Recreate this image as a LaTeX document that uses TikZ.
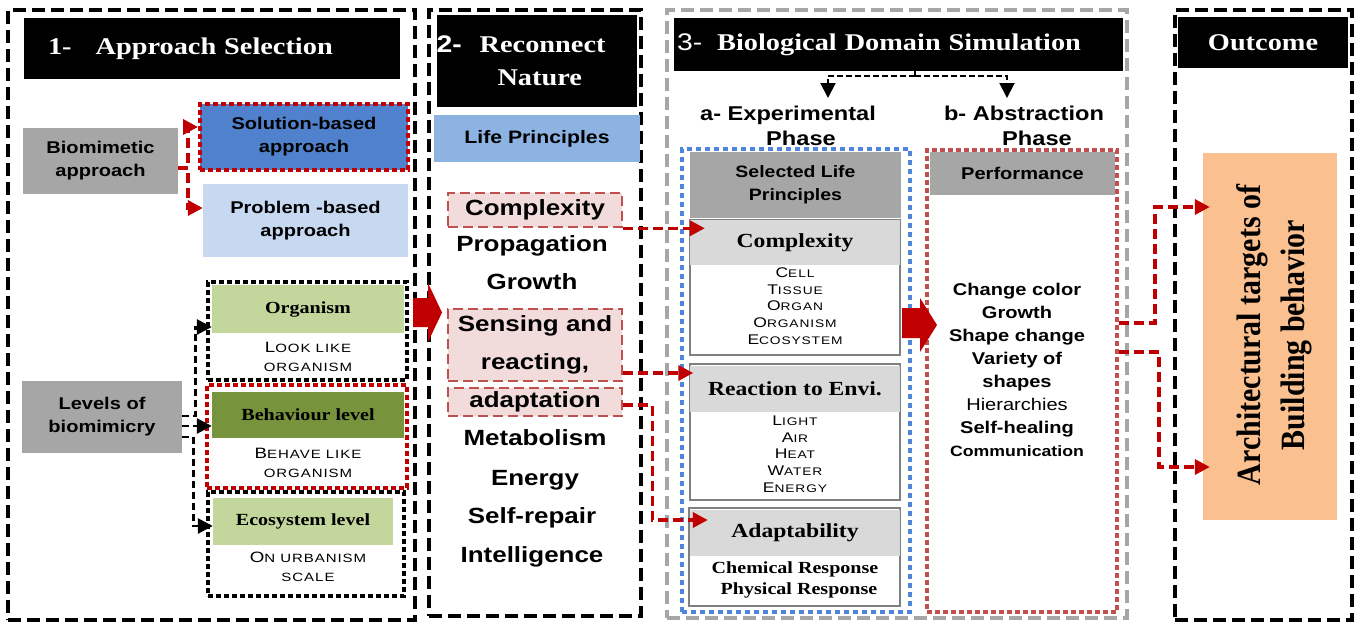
\documentclass[tikz,border=0pt]{standalone}
\usepackage{fontspec}
\setmainfont{Liberation Sans}[FakeStretch=1.18]
\newfontfamily\serf{Liberation Serif}[FakeStretch=1.18]
\newfontfamily\serfrot{Liberation Serif}[FakeStretch=0.88]
\newfontfamily\capsf{Liberation Sans}[FakeStretch=1.25,LetterSpace=8]
\usetikzlibrary{arrows.meta}
\definecolor{blkred}{HTML}{C00000}
\definecolor{dotred}{HTML}{C0504D}
\definecolor{boxgray}{HTML}{A6A6A6}
\definecolor{hdrgray}{HTML}{D9D9D9}
\definecolor{solblue}{HTML}{4F81CC}
\definecolor{probblue}{HTML}{C6D9F1}
\definecolor{lifeblue}{HTML}{8DB3E2}
\definecolor{dotblue}{HTML}{4F86DC}
\definecolor{lightgreen}{HTML}{C3D69B}
\definecolor{darkgreen}{HTML}{77933C}
\definecolor{pinkfill}{HTML}{F2DCDB}
\definecolor{orangefill}{HTML}{FAC090}
\newcommand{\fsz}[2]{\fontsize{#1}{#2}\selectfont}
\newcommand{\capA}[2]{{\fsz{15}{15}#1}{\fsz{12}{12}#2}}
\newcommand{\capB}[2]{{\fsz{14}{14}#1}{\fsz{11}{11}#2}}
\tikzset{
    panel/.style={draw, line width=4pt, dash pattern=on 13pt off 6pt, inner sep=0pt},
    titlebox/.style={fill=black, text=white, font=\serf\bfseries\fsz{24}{28}, inner sep=0pt},
    fillbox/.style={inner sep=0pt, align=center, font=\bfseries\fsz{17}{23}},
    dotbox/.style={draw, line width=4pt, dash pattern=on 5pt off 3pt, inner sep=0pt},
    hdrbox/.style={fill=hdrgray, inner sep=0pt, font=\serf\bfseries\fsz{17}{20}},
    grpbox/.style={draw=gray, line width=1.5pt, inner sep=0pt},
    capsbox/.style={inner sep=0pt, align=center, font=\capsf\fsz{12}{19}},
    capslist/.style={inner sep=0pt, align=center, font=\capsf\fsz{12}{16.75}},
    listtxt/.style={inner sep=0pt, font=\bfseries\fsz{22}{26}, text height=16pt, text depth=5pt},
    pinkbox/.style={fill=pinkfill, draw=dotred, line width=2.5pt, dash pattern=on 10pt off 5pt, inner sep=0pt, align=center, font=\bfseries\fsz{22}{38}},
    phase/.style={inner sep=0pt, align=center, font=\bfseries\fsz{20}{25}},
    redarrow/.style={blkred, line width=3.5pt, dash pattern=on 10pt off 5pt, -{Triangle[length=15pt,width=15pt]}},
    blkarrow/.style={black, line width=2.8pt, dash pattern=on 7pt off 4pt, -{Triangle[length=15pt,width=15pt]}},
}
\begin{document}
\begin{tikzpicture}[x=1pt, y=-1pt]
\useasboundingbox (0,0) rectangle (1359,624);

\node[panel, minimum width=407pt, minimum height=610pt] (P1) at (211.5,315) {};
\node[panel, minimum width=212pt, minimum height=606pt] (P2) at (535,313) {};
\node[panel, draw=boxgray, minimum width=460pt, minimum height=608pt] (P3) at (897,314) {};
\node[panel, minimum width=177pt, minimum height=610pt] (P4) at (1263.5,315) {};

\node[titlebox, text width=328pt, inner xsep=24pt, minimum height=61pt, align=left] (T1) at (212,48.5) {1-\hspace{24pt}Approach Selection};
\node[titlebox, text width=200pt, minimum height=92pt, align=left, font=\serf\bfseries\fsz{24}{33}] (T2) at (536.5,61) {{\normalfont\bfseries 2-}\hspace{18pt}Reconnect\\\hspace*{61pt}Nature};
\node[titlebox, text width=443pt, inner xsep=3pt, minimum height=53pt, align=left] (T3) at (898.5,44.5) {{\normalfont 3-}\hspace{15pt}Biological Domain Simulation};
\node[titlebox, minimum width=170pt, minimum height=51pt] (T4) at (1263,42.5) {Outcome};

\node[fillbox, fill=boxgray, minimum width=155pt, minimum height=66pt] (bio) at (100.5,161) {Biomimetic\\approach};
\node[fillbox, fill=solblue, draw=blkred, line width=4pt, dash pattern=on 5pt off 3pt, minimum width=208pt, minimum height=66pt] (sol) at (304,137) {Solution-based\\approach};
\node[fillbox, fill=probblue, minimum width=205pt, minimum height=73pt] (prob) at (305.5,220.5) {Problem -based\\approach};
\node[fillbox, fill=boxgray, minimum width=160pt, minimum height=72pt] (lev) at (102,417) {Levels of\\biomimicry};

\node[dotbox, minimum width=199pt, minimum height=98pt] (orgG) at (307.5,331) {};
\node[hdrbox, fill=lightgreen, minimum width=192pt, minimum height=48pt] (orgH) at (308,309) {Organism};
\node[capsbox] (orgT) at (308,357) {\capA{L}{OOK LIKE}\\\capA{}{ORGANISM}};
\node[dotbox, draw=blkred, minimum width=200pt, minimum height=103pt] (behG) at (307,436.5) {};
\node[hdrbox, fill=darkgreen, minimum width=192pt, minimum height=46pt] (behH) at (308,415) {Behaviour level};
\node[capsbox] (behT) at (308,463) {\capA{B}{EHAVE LIKE}\\\capA{}{ORGANISM}};
\node[dotbox, minimum width=196pt, minimum height=104pt] (ecoG) at (306,544) {};
\node[hdrbox, fill=lightgreen, minimum width=180pt, minimum height=47pt] (ecoH) at (303,521.5) {Ecosystem level};
\node[capsbox] (ecoT) at (308,567) {\capA{O}{N URBANISM}\\\capA{}{SCALE}};

\draw[redarrow] ([yshift=-7pt]bio.east) -- ++(10,0) |- ([yshift=10pt]sol.west);
\draw[redarrow] ([yshift=-7pt]bio.east) -- ++(10,0) |- ([yshift=12.5pt]prob.west);
\draw[blkarrow] ([yshift=1pt]lev.east) -- ++(13,0) |- ([yshift=-18pt]orgH.west);
\draw[blkarrow] ([yshift=-9pt]lev.east) -- ([yshift=-11pt]behH.west);
\draw[blkarrow] ([yshift=-20pt]lev.east) -- ++(11,0) |- ([yshift=-4.5pt]ecoH.west);

\fill[blkred] (413,298) -- (428,298) -- (428,283) -- (442,312.5) -- (428,342) -- (428,327) -- (413,327) -- cycle;

\node[fillbox, fill=lifeblue, minimum width=206pt, minimum height=47pt, font=\bfseries\fsz{18}{22}] (life) at (537,138.5) {Life Principles};
\node[pinkbox, minimum width=174pt, minimum height=34pt] (cplx) at (535,210) {Complexity};
\node[listtxt] (prop) at (532,246) {Propagation};
\node[listtxt] (grow) at (532,284) {Growth};
\node[pinkbox, minimum width=174pt, minimum height=72pt] (sens) at (535,345) {Sensing and\\reacting,};
\node[pinkbox, minimum width=174pt, minimum height=28pt] (adap) at (535,402) {adaptation};
\node[listtxt] (meta) at (535,440) {Metabolism};
\node[listtxt] (ener) at (535,480) {Energy};
\node[listtxt] (repr) at (532,518) {Self-repair};
\node[listtxt] (intl) at (532,557) {Intelligence};

\coordinate (fork) at (915,76);
\coordinate (tipA) at (828,98);
\coordinate (tipB) at (1007,98);
\draw[black, line width=2pt, dash pattern=on 6pt off 3pt] (T3.south -| fork) -- (fork);
\draw[blkarrow, line width=2pt, dash pattern=on 6pt off 3pt] (fork) -| (tipA);
\draw[blkarrow, line width=2pt, dash pattern=on 6pt off 3pt] (fork) -| (tipB);
\node[phase] (expT) at (788,126) {a- Experimental\\\hspace*{26pt}Phase};
\node[phase] (absT) at (1024,126) {b- Abstraction\\\hspace*{26pt}Phase};

\node[dotbox, draw=dotblue, dash pattern=on 5pt off 4pt, minimum width=228pt, minimum height=463pt] (expG) at (796,380.5) {};
\node[fillbox, fill=boxgray, minimum width=211pt, minimum height=66pt, font=\bfseries\fsz{16.5}{23}] (sel) at (795.5,185) {Selected Life\\Principles};
\node[grpbox, minimum width=210pt, minimum height=135pt] (cplxG) at (795,287.5) {};
\node[hdrbox, font=\serf\bfseries\fsz{20}{22}, minimum width=210pt, minimum height=45pt] (cplxH) at (795,242.5) {Complexity};
\node[capslist] (cplxT) at (795,306) {\capB{C}{ELL}\\\capB{T}{ISSUE}\\\capB{O}{RGAN}\\\capB{O}{RGANISM}\\\capB{E}{COSYSTEM}};
\node[grpbox, minimum width=210pt, minimum height=136pt] (rxnG) at (795,432) {};
\node[hdrbox, font=\serf\bfseries\fsz{20}{22}, minimum width=210pt, minimum height=46pt] (rxnH) at (795,389) {Reaction to Envi.};
\node[capslist] (rxnT) at (795,454) {\capB{L}{IGHT}\\\capB{A}{IR}\\\capB{H}{EAT}\\\capB{W}{ATER}\\\capB{E}{NERGY}};
\node[grpbox, minimum width=211pt, minimum height=98pt] (adpG) at (794.5,557) {};
\node[hdrbox, font=\serf\bfseries\fsz{20}{22}, minimum width=210pt, minimum height=46pt] (adpH) at (795,533) {Adaptability};
\node[inner sep=0pt, align=center, font=\serf\bfseries\fsz{17}{21}] (adpT) at (795,580) {Chemical Response\\\hspace*{8pt}Physical Response};

\node[dotbox, draw=dotred, minimum width=190pt, minimum height=462pt] (absG) at (1022,381) {};
\node[fillbox, fill=boxgray, minimum width=185pt, minimum height=43pt] (perf) at (1022.5,173.5) {Performance};
\node[inner sep=0pt, align=center, font=\bfseries\fsz{17}{23}] (perfT) at (1017,370) {Change color\\Growth\\Shape change\\Variety of\\shapes\\{\mdseries Hierarchies}\\Self-healing\\{\fsz{15}{23}Communication}};

\fill[blkred] (902,308) -- (920,308) -- (920,298) -- (937,325) -- (920,352) -- (920,338) -- (902,338) -- cycle;

\draw[redarrow] (cplx.south east) -- ([xshift=15pt]cplxH.west |- cplx.south east);
\draw[redarrow] ([yshift=-28pt]sens.east) -- ++(70,0);
\draw[redarrow] ([yshift=-3pt]adap.east) -- ++(29,0) |- ([xshift=18pt,yshift=13pt]adpH.west);

\node[fill=orangefill, minimum width=134pt, minimum height=367pt, inner sep=0pt] (outc) at (1270,336.5) {};
\node[rotate=90, align=center, font=\serfrot\bfseries\fsz{34}{44}, inner sep=0pt] (outcT) at (1274,335) {Architectural targets of\\Building behavior};

\draw[redarrow] ([yshift=58pt]absG.east) -- ++(36,0) |- ([xshift=7pt,yshift=129.5pt]outc.west);
\draw[redarrow] ([yshift=29pt]absG.east) -- ++(40,0) |- ([xshift=7pt,yshift=-130.5pt]outc.west);
\end{tikzpicture}
\end{document}
